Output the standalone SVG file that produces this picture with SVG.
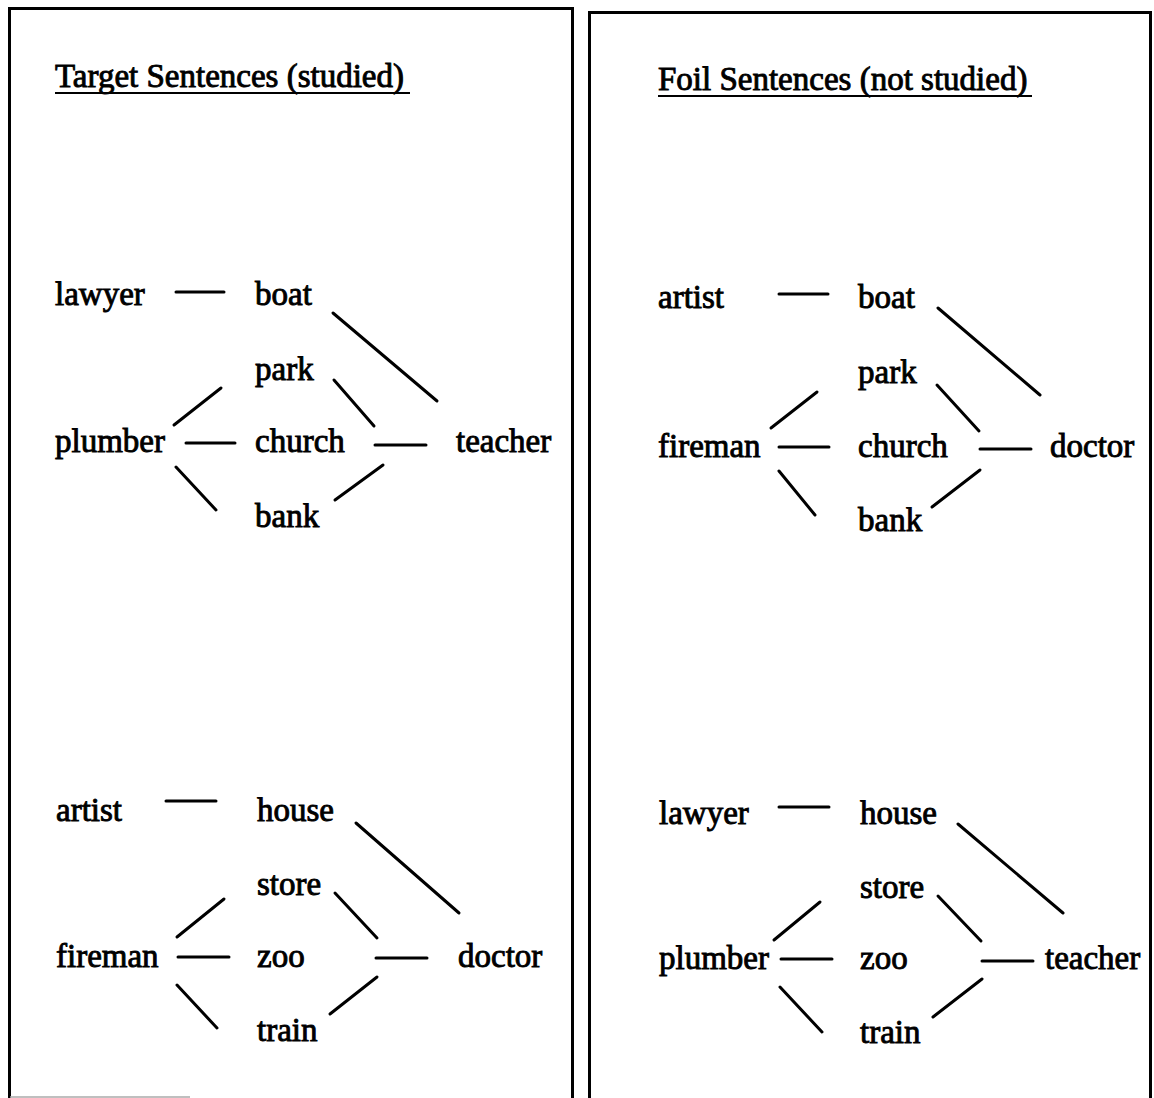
<svg xmlns="http://www.w3.org/2000/svg" width="1154" height="1098" viewBox="0 0 1154 1098">
<style>
  text { font-family: "Liberation Serif", "Times New Roman", serif; font-size: 33px; fill: #000; stroke: #000; stroke-width: 0.9px; }
  .c line { stroke: #000; stroke-width: 3; stroke-linecap: round; }
  .frame { fill: none; stroke: #000; stroke-width: 3; }
  .ul { stroke: #000; stroke-width: 2; }
</style>
<rect width="1154" height="1098" fill="#fff"/>
<g id="panels">
  <path class="frame" d="M9.5,1098 V8.5 H572.5 V1098"/>
  <line x1="10" y1="1097" x2="190" y2="1097" stroke="#aaa" stroke-width="1.5"/>
  <path class="frame" d="M589.5,1098 V12.5 H1150.5 V1098"/>
</g>
<g id="titles">
  <text x="55" y="87">Target Sentences (studied)</text>
  <line class="ul" x1="55" y1="93" x2="410" y2="93"/>
  <text x="658" y="90">Foil Sentences (not studied)</text>
  <line class="ul" x1="658" y1="96" x2="1032" y2="96"/>
</g>
<g id="nodes" transform="translate(0,2)">
  <g id="lt-lawyer"><text x="55" y="303">lawyer</text></g>
  <g id="lt-boat"><text x="255" y="303">boat</text></g>
  <g id="lt-park"><text x="255" y="378">park</text></g>
  <g id="lt-plumber"><text x="55" y="450">plumber</text></g>
  <g id="lt-church"><text x="255" y="450">church</text></g>
  <g id="lt-teacher"><text x="456" y="450">teacher</text></g>
  <g id="lt-bank"><text x="255" y="525">bank</text></g>

  <g id="lb-artist"><text x="56" y="819">artist</text></g>
  <g id="lb-house"><text x="257" y="819">house</text></g>
  <g id="lb-store"><text x="257" y="893">store</text></g>
  <g id="lb-fireman"><text x="56" y="965">fireman</text></g>
  <g id="lb-zoo"><text x="257" y="965">zoo</text></g>
  <g id="lb-doctor"><text x="458" y="965">doctor</text></g>
  <g id="lb-train"><text x="257" y="1039">train</text></g>

  <g id="rt-artist"><text x="658" y="306">artist</text></g>
  <g id="rt-boat"><text x="858" y="306">boat</text></g>
  <g id="rt-park"><text x="858" y="381">park</text></g>
  <g id="rt-fireman"><text x="658" y="455">fireman</text></g>
  <g id="rt-church"><text x="858" y="455">church</text></g>
  <g id="rt-doctor"><text x="1050" y="455">doctor</text></g>
  <g id="rt-bank"><text x="858" y="529">bank</text></g>

  <g id="rb-lawyer"><text x="659" y="822">lawyer</text></g>
  <g id="rb-house"><text x="860" y="822">house</text></g>
  <g id="rb-store"><text x="860" y="896">store</text></g>
  <g id="rb-plumber"><text x="659" y="967">plumber</text></g>
  <g id="rb-zoo"><text x="860" y="967">zoo</text></g>
  <g id="rb-teacher"><text x="1045" y="967">teacher</text></g>
  <g id="rb-train"><text x="860" y="1041">train</text></g>
</g>
<g id="connectors" class="c">
  <line x1="176" y1="292" x2="224" y2="292"/>
  <line x1="333" y1="313" x2="437" y2="401"/>
  <line x1="174" y1="425" x2="221" y2="388"/>
  <line x1="334" y1="380" x2="374" y2="426"/>
  <line x1="186" y1="443" x2="235" y2="443"/>
  <line x1="375" y1="445" x2="426" y2="445"/>
  <line x1="176" y1="467" x2="216" y2="510"/>
  <line x1="335" y1="500" x2="383" y2="465"/>

  <line x1="166" y1="801" x2="216" y2="801"/>
  <line x1="356" y1="823" x2="459" y2="913"/>
  <line x1="177" y1="937" x2="224" y2="899"/>
  <line x1="335" y1="893" x2="377" y2="938"/>
  <line x1="178" y1="957" x2="229" y2="957"/>
  <line x1="376" y1="958" x2="427" y2="958"/>
  <line x1="177" y1="985" x2="217" y2="1028"/>
  <line x1="330" y1="1014" x2="377" y2="977"/>

  <line x1="779" y1="294" x2="828" y2="294"/>
  <line x1="938" y1="308" x2="1040" y2="395"/>
  <line x1="771" y1="428" x2="817" y2="392"/>
  <line x1="937" y1="385" x2="979" y2="431"/>
  <line x1="779" y1="447" x2="829" y2="447"/>
  <line x1="980" y1="449" x2="1031" y2="449"/>
  <line x1="779" y1="471" x2="815" y2="515"/>
  <line x1="932" y1="507" x2="980" y2="470"/>

  <line x1="779" y1="807" x2="829" y2="807"/>
  <line x1="958" y1="824" x2="1063" y2="913"/>
  <line x1="774" y1="940" x2="820" y2="902"/>
  <line x1="938" y1="896" x2="981" y2="941"/>
  <line x1="781" y1="959" x2="832" y2="959"/>
  <line x1="982" y1="961" x2="1033" y2="961"/>
  <line x1="780" y1="987" x2="822" y2="1032"/>
  <line x1="933" y1="1017" x2="982" y2="979"/>
</g>
</svg>
